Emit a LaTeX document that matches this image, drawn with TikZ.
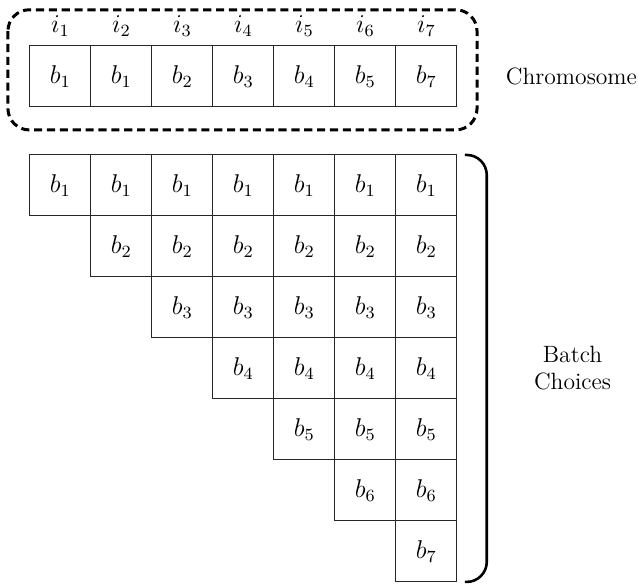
\documentclass[tikz,border=0pt]{standalone}
\usepackage{amsmath}
\usetikzlibrary{positioning}
\begin{document}
\begin{tikzpicture}[
 node distance=0pt,
 cell/.style={rectangle, draw=black!85, line width=0.5pt, minimum size=1cm, inner sep=0pt, outer sep=0pt, font=\fontsize{12}{14}\selectfont},
 gene/.style={inner sep=1pt, font=\fontsize{12}{14}\selectfont},
 group/.style={draw=black, line width=1.4pt, dash pattern=on 3.8pt off 2.2pt, rounded corners=0.35cm},
 bracket/.style={draw=black, line width=1.2pt, rounded corners=0.33cm},
 tag/.style={font=\fontsize{11}{12.6}\selectfont, align=center}
]
\useasboundingbox (0,0) rectangle (10.459,-9.59);

% Chromosome row
\node[cell] (c1) at (0.99,-1.25) {$b_1$};
\foreach \k/\p/\v in {2/1/1,3/2/2,4/3/3,5/4/4,6/5/5,7/6/7} {
 \node[cell, right=of c\p] (c\k) {$b_{\v}$};
}

% Gene indices
\foreach \k in {1,...,7} {
 \node[gene, above=3pt of c\k] (i\k) {$i_{\k}$};
}

% Dashed frame round the chromosome
\draw[group] ([xshift=-0.36cm, yshift=0.59cm]c1.north west) rectangle
 ([xshift=0.33cm, yshift=-0.38cm]c7.south east);
\node[tag, right=0.68cm of c7] (chrom) {Chromosome};

% Batch choices (upper triangle)
\foreach \r in {1,...,7} {
 \foreach \c in {\r,...,7} {
 \node[cell] (g\r\c) at (\c-0.01,-2.04-\r) {$b_{\r}$};
 }
}

% Bracket
\draw[bracket] ([xshift=0.13cm]g17.north east) -- ++(0.36,0) coordinate (btop)
 |- ([xshift=0.13cm]g77.south east);
\coordinate (bmid) at (btop |- g44);
\node[tag, right=0.65cm of bmid] (batch) {Batch\\Choices};
\end{tikzpicture}
\end{document}
